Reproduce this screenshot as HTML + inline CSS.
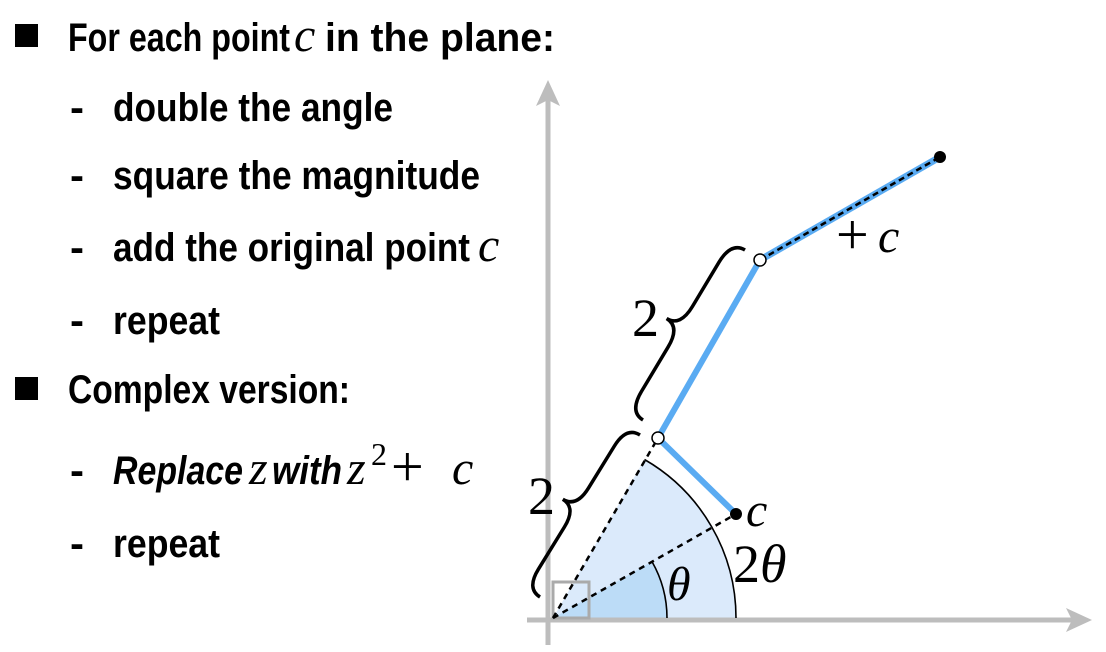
<!DOCTYPE html>
<html><head><meta charset="utf-8"><style>
html,body{margin:0;padding:0;background:#fff;width:1106px;height:652px;overflow:hidden}
svg{display:block}
.b{font-family:"Liberation Sans",sans-serif;font-weight:bold;font-size:40px;fill:#000}
.m{font-family:"Liberation Serif",serif;font-style:italic;font-size:48px;fill:#000}
.n{font-family:"Liberation Serif",serif;font-size:48px;fill:#000}
</style></head><body>
<svg width="1106" height="652" viewBox="0 0 1106 652">
<g>
 <rect x="15" y="24" width="23" height="23" fill="#000"/>
 <text class="b" x="68" y="51" textLength="222" lengthAdjust="spacingAndGlyphs">For each point</text>
 <text class="m" x="294" y="51">c</text>
 <text class="b" x="325" y="51" textLength="230" lengthAdjust="spacingAndGlyphs">in the plane:</text>
 <text class="b" x="70" y="121" textLength="14" lengthAdjust="spacingAndGlyphs">-</text>
 <text class="b" x="113" y="121" textLength="280" lengthAdjust="spacingAndGlyphs">double the angle</text>
 <text class="b" x="70" y="189" textLength="14" lengthAdjust="spacingAndGlyphs">-</text>
 <text class="b" x="113" y="189" textLength="367" lengthAdjust="spacingAndGlyphs">square the magnitude</text>
 <text class="b" x="70" y="261" textLength="14" lengthAdjust="spacingAndGlyphs">-</text>
 <text class="b" x="113" y="261" textLength="357" lengthAdjust="spacingAndGlyphs">add the original point</text>
 <text class="m" x="478" y="261">c</text>
 <text class="b" x="70" y="334" textLength="14" lengthAdjust="spacingAndGlyphs">-</text>
 <text class="b" x="113" y="334" textLength="107" lengthAdjust="spacingAndGlyphs">repeat</text>
 <rect x="15" y="377" width="23" height="23" fill="#000"/>
 <text class="b" x="68" y="403" textLength="282" lengthAdjust="spacingAndGlyphs">Complex version:</text>
 <text class="b" x="70" y="484" textLength="14" lengthAdjust="spacingAndGlyphs">-</text>
 <text class="b" x="113" y="484" font-style="italic" textLength="130" lengthAdjust="spacingAndGlyphs">Replace</text>
 <text class="m" x="249" y="484">z</text>
 <text class="b" x="272" y="484" font-style="italic" textLength="70" lengthAdjust="spacingAndGlyphs">with</text>
 <text class="m" x="347" y="484">z</text>
 <text class="n" x="371" y="465" style="font-size:32px">2</text>
 <text class="n" x="391" y="486" style="font-size:58px">+</text>
 <text class="m" x="452" y="484">c</text>
 <text class="b" x="70" y="557" textLength="14" lengthAdjust="spacingAndGlyphs">-</text>
 <text class="b" x="113" y="557" textLength="107" lengthAdjust="spacingAndGlyphs">repeat</text>
</g>
<g>
 <path d="M553,618 L736,618 A183,183 0 0 0 644.5,459.5 Z" fill="#dbeafb"/>
 <path d="M553,618 L667,618 A114,114 0 0 0 652,561.6 Z" fill="#bcdcf7"/>
 <line x1="527" y1="620" x2="1080" y2="620" stroke="#bdbdbd" stroke-width="5"/>
 <path d="M1092,620 L1066,608 L1072,620 L1066,632 Z" fill="#bdbdbd"/>
 <line x1="548" y1="645" x2="548" y2="95" stroke="#bdbdbd" stroke-width="5"/>
 <path d="M548,80 L536,106 L548,100 L560,106 Z" fill="#bdbdbd"/>
 <rect x="553" y="582" width="36" height="36" fill="none" stroke="#aaa" stroke-width="3"/>
 <path d="M667,618 A114,114 0 0 0 652,561.6" fill="none" stroke="#000" stroke-width="1.6"/>
 <path d="M736,618 A183,183 0 0 0 644.5,459.5" fill="none" stroke="#000" stroke-width="1.6"/>
 <line x1="553" y1="618" x2="736" y2="514" stroke="#000" stroke-width="2.5" stroke-dasharray="6,5"/>
 <line x1="553" y1="618" x2="658" y2="438" stroke="#000" stroke-width="2.5" stroke-dasharray="6,5"/>
 <line x1="658" y1="438" x2="736" y2="514" stroke="#5aabf2" stroke-width="6"/>
 <line x1="658" y1="438" x2="760" y2="260" stroke="#5aabf2" stroke-width="6"/>
 <line x1="760" y1="260" x2="940" y2="157" stroke="#5aabf2" stroke-width="7"/>
 <line x1="760" y1="260" x2="940" y2="157" stroke="#000" stroke-width="2.5" stroke-dasharray="6,4"/>
 <circle cx="736" cy="514" r="6" fill="#000"/>
 <circle cx="940" cy="157" r="6" fill="#000"/>
 <circle cx="658" cy="438" r="6" fill="#fff" stroke="#000" stroke-width="1.5"/>
 <circle cx="760" cy="260" r="6" fill="#fff" stroke="#000" stroke-width="1.5"/>
 <path id="brace1" d="" fill="none" stroke="#000" stroke-width="3.5"/>
 <path id="brace2" d="" fill="none" stroke="#000" stroke-width="3.5"/>
 <text class="n" x="632" y="336" style="font-size:54px">2</text>
 <text class="n" x="528" y="514" style="font-size:54px">2</text>
 <text class="n" x="836" y="254" style="font-size:58px">+</text>
 <text class="m" x="878" y="252">c</text>
 <text class="m" x="746" y="526">c</text>
 <text class="n" x="733" y="582" style="font-size:54px">2</text>
 <text class="m" x="760" y="582" style="font-size:54px">θ</text>
 <text class="m" x="667" y="600" style="font-size:48px">θ</text>
</g>
</svg>
<script>
function brace(id,x1,y1,x2,y2,w){
 var dx=x2-x1,dy=y2-y1,L=Math.hypot(dx,dy),tx=dx/L,ty=dy/L;
 var nx=-ty,ny=tx;
 var mx=(x1+x2)/2,my=(y1+y2)/2,s=L*0.12;
 function p(x,y){return x.toFixed(1)+','+y.toFixed(1);}
 var d='M'+p(x1,y1)+' Q'+p(x1+nx*w,y1+ny*w)+' '+p(x1+nx*w+tx*s,y1+ny*w+ty*s)
 +' L'+p(mx+nx*w-tx*s,my+ny*w-ty*s)+' Q'+p(mx+nx*w,my+ny*w)+' '+p(mx+nx*2*w,my+ny*2*w)
 +' Q'+p(mx+nx*w,my+ny*w)+' '+p(mx+nx*w+tx*s,my+ny*w+ty*s)
 +' L'+p(x2+nx*w-tx*s,y2+ny*w-ty*s)+' Q'+p(x2+nx*w,y2+ny*w)+' '+p(x2,y2);
 document.getElementById(id).setAttribute('d',d);
}
brace('brace1',745,250,643,420,16);
brace('brace2',640,435,540,597,16);
</script>
</body></html>
